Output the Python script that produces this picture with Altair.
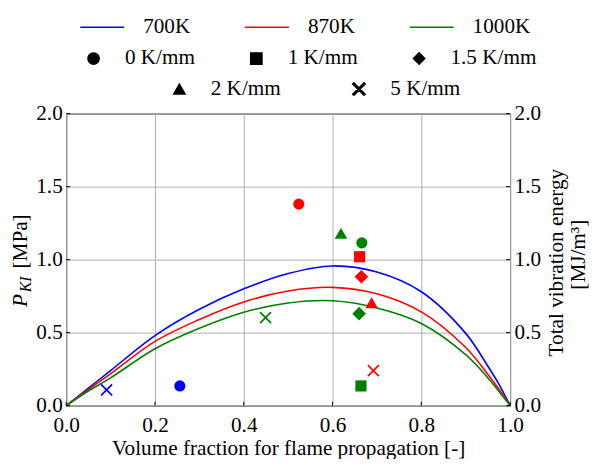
import altair as alt
import pandas as pd

FONT = "Liberation Serif"

# ---- data ----
curve_x = [0, 0.05, 0.1, 0.2, 0.3, 0.4, 0.5, 0.6, 0.7, 0.8, 0.9, 0.95, 0.975, 1.0]
curve_700 = [0, 0.120, 0.240, 0.480, 0.660, 0.800, 0.905, 0.957, 0.915, 0.780, 0.495, 0.270, 0.146, 0]
curve_870 = [0, 0.110, 0.218, 0.440, 0.590, 0.710, 0.785, 0.810, 0.766, 0.642, 0.398, 0.214, 0.112, 0]
curve_1000 = [0, 0.100, 0.190, 0.390, 0.530, 0.640, 0.703, 0.718, 0.669, 0.563, 0.349, 0.190, 0.097, 0]

temps = ["700K", "870K", "1000K"]
colors = ["#0000ff", "#ff0000", "#008000"]

pt_temp = ["700K", "700K", "1000K", "870K", "1000K", "1000K", "870K", "870K", "870K", "1000K", "870K", "1000K"]
pt_grad = ["5 K/mm", "0 K/mm", "5 K/mm", "0 K/mm", "2 K/mm", "0 K/mm", "1 K/mm", "1.5 K/mm", "2 K/mm", "1.5 K/mm", "5 K/mm", "1 K/mm"]
pt_x = [0.091, 0.256, 0.449, 0.524, 0.619, 0.666, 0.661, 0.665, 0.688, 0.660, 0.692, 0.664]
pt_y = [0.108, 0.135, 0.603, 1.380, 1.180, 1.115, 1.020, 0.883, 0.705, 0.630, 0.240, 0.135]

grads_a = ["0 K/mm", "1 K/mm", "1.5 K/mm"]
grads_b = ["2 K/mm", "5 K/mm"]
X_PATH = ("M-0.894,-1.106L1.106,0.894L0.894,1.106L-1.106,-0.894Z "
          "M-0.894,1.106L-1.106,0.894L0.894,-1.106L1.106,-0.894Z")
shapes_a = ["circle", "square", "diamond"]
shapes_b = ["triangle-up", X_PATH]

x_ticks = [0.0, 0.2, 0.4, 0.6, 0.8, 1.0]
y_ticks = [0.0, 0.5, 1.0, 1.5, 2.0]

x_title = "Volume fraction for flame propagation [-]"
y_title_parts = ["P", "KI", "[MPa]"]
y2_title = ["Total vibration energy", "[MJ/m³]"]

FS = 21.5

# ---- tables ----
line_rows = []
for t, ys in zip(temps, [curve_700, curve_870, curve_1000]):
    for xv, yv in zip(curve_x, ys):
        line_rows.append({"temp": t, "x": xv, "y": yv})
line_df = pd.DataFrame(line_rows)

pts = pd.DataFrame({"temp": pt_temp, "grad": pt_grad, "x": pt_x, "y": pt_y})
pts_a = pts[pts["grad"].isin(grads_a)]
pts_b = pts[pts["grad"].isin(grads_b)]

xscale = alt.Scale(domain=[0, 1], nice=False, zero=False)
yscale = alt.Scale(domain=[0, 2], nice=False)
cscale = alt.Scale(domain=temps, range=colors)

xaxis = alt.Axis(title=x_title, values=x_ticks, format=".1f", labelPadding=9,
                 titlePadding=2, grid=True, labelFlush=False)
yaxis = alt.Axis(title="", values=y_ticks, format=".1f", labelPadding=4, grid=True,
                 labelFlush=False)

X = alt.X("x:Q", scale=xscale, axis=xaxis)
Y = alt.Y("y:Q", scale=yscale, axis=yaxis)

color_legend = alt.Legend(orient="none", legendX=13, legendY=-111, direction="horizontal",
                          title=None, symbolType="stroke", symbolSize=1980,
                          symbolStrokeWidth=1.6, labelOffset=18, columnPadding=52)

lines = alt.Chart(line_df).mark_line(strokeWidth=1.6, interpolate="catmull-rom").encode(
    x=X, y=Y,
    color=alt.Color("temp:N", scale=cscale, legend=color_legend),
)

legend_a = alt.Legend(orient="none", legendX=17, legendY=-67, direction="horizontal",
                      title=None, symbolSize=130, labelOffset=21, columnPadding=51,
                      symbolFillColor="black", symbolStrokeColor="black")
legend_b = alt.Legend(orient="none", legendX=104, legendY=-36, direction="horizontal",
                      title=None, symbolSize=130, labelOffset=21, columnPadding=68,
                      symbolFillColor="black", symbolStrokeColor="black")

points_a = alt.Chart(pts_a).mark_point(filled=True, opacity=1).encode(
    x=X, y=Y,
    color=alt.Color("temp:N", scale=cscale),
    shape=alt.Shape("grad:N", scale=alt.Scale(domain=grads_a, range=shapes_a), legend=legend_a),
    size=alt.condition("datum.grad === '1.5 K/mm'", alt.value(190), alt.value(128)),
)
points_b = alt.Chart(pts_b).mark_point(filled=True, opacity=1).encode(
    x=X, y=Y,
    color=alt.Color("temp:N", scale=cscale),
    shape=alt.Shape("grad:N", scale=alt.Scale(domain=grads_b, range=shapes_b), legend=legend_b),
    size=alt.condition("datum.grad === '2 K/mm'", alt.value(165), alt.value(125)),
)

xt_df = pd.DataFrame({"x": x_ticks})
yt_df = pd.DataFrame({"y": y_ticks})
ticks_bottom = alt.Chart(xt_df).mark_rule(color="black", strokeWidth=1).encode(
    x=X, y=alt.value(296), y2=alt.value(292))
ticks_left = alt.Chart(yt_df).mark_rule(color="black", strokeWidth=1).encode(
    y=Y, x=alt.value(0), x2=alt.value(4))
ticks_right = alt.Chart(yt_df).mark_rule(color="black", strokeWidth=1).encode(
    y=Y, x=alt.value(446), x2=alt.value(450))


def vtext(txt, x, y, size, align, baseline, style="normal"):
    return alt.Chart(pd.DataFrame({"t": [txt]})).mark_text(
        angle=270, align=align, baseline=baseline, font=FONT, fontSize=size,
        fontStyle=style, color="black").encode(text="t:N", x=alt.value(x), y=alt.value(y))


t1 = vtext(y_title_parts[0], -40, 196, FS, "left", "alphabetic", "italic")
t2 = vtext(y_title_parts[1], -36, 181, 16, "left", "alphabetic", "italic")
t3 = vtext(y_title_parts[2], -40, 157, FS, "left", "alphabetic")
r1 = vtext(y2_title[0], 498, 151, FS, "center", "middle")
r2 = vtext(y2_title[1], 520, 143, FS, "center", "middle")

inner = alt.layer(lines, points_a, points_b, ticks_bottom, ticks_left, ticks_right,
                  t1, t2, t3, r1, r2).resolve_scale(shape="independent")

right = alt.Chart(pts).mark_point(opacity=0).encode(
    x=X,
    y=alt.Y("y:Q", scale=alt.Scale(domain=[0, 2], nice=False),
            axis=alt.Axis(orient="right", title="", values=y_ticks, format=".1f",
                          grid=False, labelPadding=4, labelFlush=False)),
)

chart = alt.layer(inner, right).resolve_scale(y="independent").properties(
    width=450, height=296,
    autosize=alt.AutoSizeParams(type="none"),
    padding={"left": 59, "top": 104, "right": 82, "bottom": 51},
).configure_view(stroke="black", strokeWidth=1).configure_axis(
    labelFont=FONT, labelFontSize=FS, titleFont=FONT, titleFontSize=FS,
    labelColor="black", titleColor="black", titleFontWeight="normal",
    gridColor="#b0b0b0", gridWidth=1, ticks=False, domain=False,
).configure_legend(labelFont=FONT, labelFontSize=FS, labelColor="black")

chart.save("out.html", embed_options={"renderer": "svg", "actions": False})
